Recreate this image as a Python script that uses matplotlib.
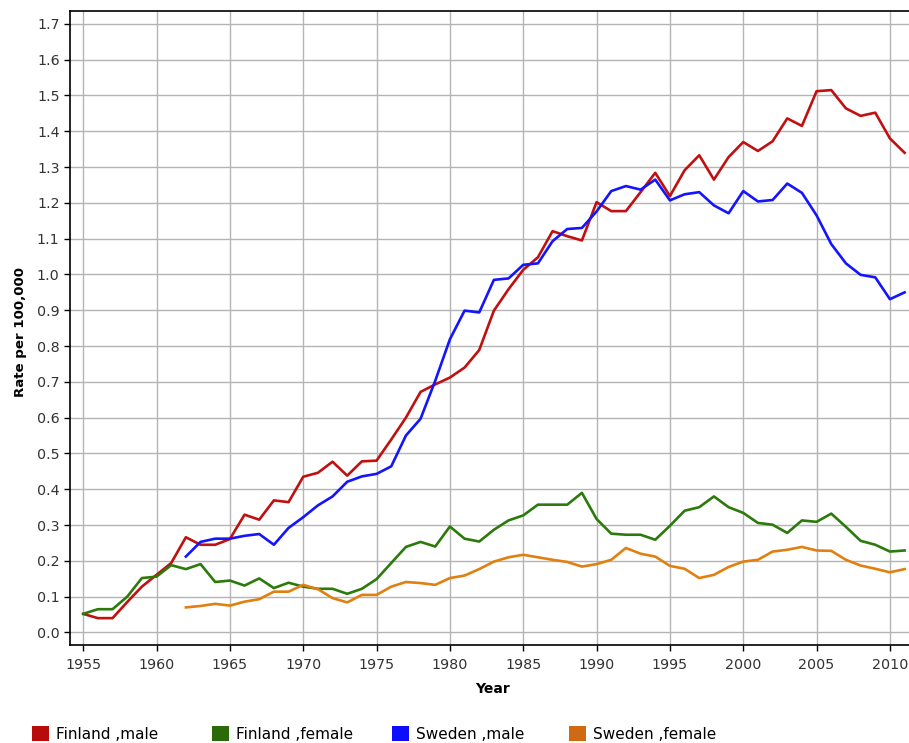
import matplotlib
matplotlib.use("Agg")
import matplotlib.pyplot as plt
from matplotlib.patches import Patch

plt.rcParams['font.family'] = ['DejaVu Sans']

years_fi = list(range(1955, 2012))
years_se = list(range(1962, 2012))

finland_male = [0.052, 0.040, 0.040, 0.085, 0.128, 0.161, 0.194, 0.266, 0.245, 0.245,
                0.261, 0.329, 0.315, 0.369, 0.364, 0.435, 0.446, 0.477, 0.438, 0.478,
                0.480, 0.539, 0.600, 0.672, 0.693, 0.712, 0.740, 0.789, 0.899, 0.959,
                1.013, 1.048, 1.121, 1.107, 1.095, 1.202, 1.177, 1.177, 1.230, 1.284,
                1.219, 1.291, 1.333, 1.265, 1.328, 1.370, 1.345, 1.372, 1.436, 1.415,
                1.512, 1.515, 1.464, 1.443, 1.452, 1.380, 1.340]

finland_female = [0.052, 0.065, 0.065, 0.100, 0.152, 0.156, 0.188, 0.177, 0.191, 0.141,
                  0.145, 0.131, 0.151, 0.124, 0.139, 0.128, 0.122, 0.122, 0.108, 0.122,
                  0.149, 0.194, 0.239, 0.253, 0.240, 0.296, 0.262, 0.254, 0.287, 0.313,
                  0.327, 0.357, 0.357, 0.357, 0.390, 0.317, 0.276, 0.273, 0.273, 0.259,
                  0.298, 0.340, 0.350, 0.380, 0.350, 0.334, 0.306, 0.301, 0.278, 0.313,
                  0.309, 0.332, 0.295, 0.256, 0.245, 0.226, 0.229]

sweden_male = [0.212, 0.253, 0.262, 0.262, 0.270, 0.275, 0.245, 0.292, 0.322, 0.355,
               0.380, 0.421, 0.436, 0.443, 0.464, 0.550, 0.597, 0.703, 0.819, 0.899,
               0.894, 0.985, 0.989, 1.027, 1.031, 1.093, 1.127, 1.130, 1.176, 1.233,
               1.247, 1.237, 1.265, 1.207, 1.224, 1.230, 1.193, 1.171, 1.233, 1.204,
               1.208, 1.254, 1.228, 1.165, 1.085, 1.031, 0.999, 0.992, 0.931, 0.950]

sweden_female = [0.070, 0.074, 0.080, 0.075, 0.086, 0.093, 0.114, 0.114, 0.133, 0.121,
                 0.096, 0.084, 0.105, 0.105, 0.128, 0.141, 0.138, 0.133, 0.152, 0.159,
                 0.177, 0.198, 0.210, 0.217, 0.210, 0.203, 0.197, 0.184, 0.191, 0.203,
                 0.236, 0.220, 0.212, 0.186, 0.178, 0.152, 0.161, 0.183, 0.198, 0.203,
                 0.226, 0.231, 0.239, 0.229, 0.228, 0.203, 0.187, 0.178, 0.168, 0.177]

labels = ['Finland ,male', 'Finland ,female', 'Sweden ,male', 'Sweden ,female']
colors = ['#c01010', '#2c7a0c', '#1414ff', '#e08010']
legend_colors = ['#b80c0c', '#2a6a08', '#0c0cff', '#d06a12']

fig = plt.figure(figsize=(9.09, 7.43), dpi=100)
ax = fig.add_axes([70 / 909, 1 - 645 / 743, 1 - 70 / 909, (645 - 11) / 743])

ax.plot(years_fi, finland_male, color=colors[0], lw=1.9, zorder=3)
ax.plot(years_fi, finland_female, color=colors[1], lw=1.9, zorder=3)
ax.plot(years_se, sweden_male, color=colors[2], lw=1.9, zorder=3)
ax.plot(years_se, sweden_female, color=colors[3], lw=1.9, zorder=3)

ax.set_xlim(1954.1, 2011.3)
ax.set_ylim(-0.035, 1.736)
ax.set_xticks(range(1955, 2011, 5))
ax.set_yticks([i / 10 for i in range(18)])
ax.set_yticklabels(['%.1f' % (i / 10) for i in range(18)])
ax.grid(True, color='#b4b4b4', lw=1.0)
ax.set_axisbelow(True)
ax.tick_params(direction='out', length=4.5, width=1, labelsize=10.3, colors='black',
               labelcolor='#333333')
ax.tick_params(axis='x', pad=5)
ax.tick_params(axis='y', pad=3)
ax.spines['right'].set_visible(False)
for s in ['left', 'top', 'bottom']:
    ax.spines[s].set_linewidth(1.2)

ax.set_xlabel('Year', fontsize=10, fontweight='bold')
ax.set_ylabel('Rate per 100,000', fontsize=9.6, fontweight='bold')
ax.xaxis.set_label_coords(0.504, -0.058)
ax.yaxis.set_label_coords(-0.0513, 0.494)

# legend entries sit at fixed positions along the bottom edge
legend_x = [32, 212, 392, 569]
for lx, lab, c in zip(legend_x, labels, legend_colors):
    fig.legend([Patch(facecolor=c, edgecolor='none')], [lab], loc='upper left',
               bbox_to_anchor=(lx / 909, 1 - 726 / 743), frameon=False, fontsize=11,
               handlelength=1.1, handleheight=1.1, handletextpad=0.45,
               borderpad=0, borderaxespad=0)

fig.savefig('out.png', dpi=100)
